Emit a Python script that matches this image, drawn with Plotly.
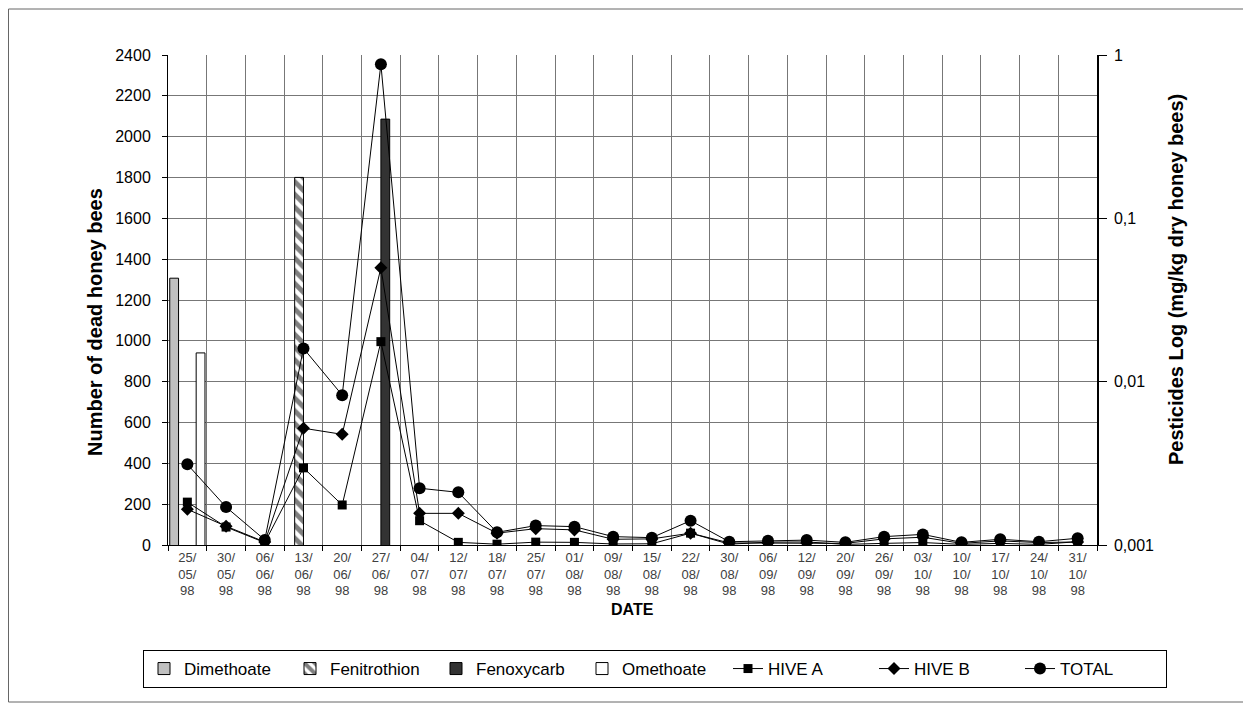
import plotly.graph_objects as go

dates = ["25/05/98", "30/05/98", "06/06/98", "13/06/98", "20/06/98", "27/06/98",
         "04/07/98", "12/07/98", "18/07/98", "25/07/98", "01/08/98", "09/08/98",
         "15/08/98", "22/08/98", "30/08/98", "06/09/98", "12/09/98", "20/09/98",
         "26/09/98", "03/10/98", "10/10/98", "17/10/98", "24/10/98", "31/10/98"]
tick_text = [d[0:3] + "<br>" + d[3:6] + "<br>" + d[6:] for d in dates]

hive_a = [210, 88, 12, 378, 196, 996, 119, 13, 4, 14, 13, 5, 6, 58, 4, 14, 15, 3, 8, 12, 3, 8, 3, 16]
hive_b = [175, 92, 15, 572, 542, 1358, 155, 155, 58, 80, 74, 28, 30, 58, 10, 10, 10, 8, 30, 38, 8, 20, 12, 15]
total = [395, 186, 25, 963, 734, 2355, 278, 258, 62, 95, 90, 41, 36, 119, 16, 21, 24, 13, 41, 52, 13, 28, 16, 33]

# pesticide residues (mg/kg dry honey bees), log scale
dimethoate = {"25/05/98": 0.043}
fenitrothion = {"13/06/98": 0.178}
fenoxycarb = {"27/06/98": 0.405}
omethoate = {"25/05/98": 0.015}


def series(d):
    return [d.get(x) for x in dates]


FONT = "Liberation Sans, Arial, sans-serif"
NARROW = "Liberation Sans Narrow, Arial Narrow, Liberation Sans, Arial, sans-serif"

fig = go.Figure()

bar_line = dict(color="black", width=1)
fig.add_trace(go.Bar(x=dates, y=series(dimethoate), name="Dimethoate",
                     marker=dict(color="#c0c0c0", line=bar_line), yaxis="y"))
fig.add_trace(go.Bar(x=dates, y=series(fenitrothion), name="Fenitrothion",
                     marker=dict(color="white", line=bar_line,
                                 pattern=dict(shape="\\", fgcolor="black", bgcolor="white",
                                              size=9, solidity=0.55)), yaxis="y"))
fig.add_trace(go.Bar(x=dates, y=series(fenoxycarb), name="Fenoxycarb",
                     marker=dict(color="#333333", line=bar_line), yaxis="y"))
fig.add_trace(go.Bar(x=dates, y=series(omethoate), name="Omethoate",
                     marker=dict(color="white", line=bar_line), yaxis="y"))

line_style = dict(color="black", width=1)
fig.add_trace(go.Scatter(x=dates, y=hive_a, name="HIVE A", mode="lines+markers",
                         line=line_style, marker=dict(symbol="square", size=9, color="black"),
                         yaxis="y2"))
fig.add_trace(go.Scatter(x=dates, y=hive_b, name="HIVE B", mode="lines+markers",
                         line=line_style, marker=dict(symbol="diamond", size=10, color="black"),
                         yaxis="y2"))
fig.add_trace(go.Scatter(x=dates, y=total, name="TOTAL", mode="lines+markers",
                         line=line_style, marker=dict(symbol="circle", size=12, color="black"),
                         yaxis="y2"))

# the page body adds an 8px offset; figure sized so screen plot area is 168..1097 x 55..545
W, H = 1243, 703
L, T = 160, 47
R = W - (1097 - 8)
B = H - (545 - 8)
PW, PH = 929, 490


def px_x(sx):
    return (sx - 168) / PW


def px_y(sy):
    return (545 - sy) / PH


fig.update_layout(
    width=W, height=H,
    margin=dict(l=L, r=R, t=T, b=B, autoexpand=False),
    paper_bgcolor="white", plot_bgcolor="white",
    font=dict(family=FONT, size=13, color="black"),
    barmode="group", bargap=0.09, bargroupgap=0.0,
    showlegend=True,
    legend=dict(orientation="h", x=px_x(143), xanchor="left", y=px_y(650), yanchor="top",
                bordercolor="black", borderwidth=1, bgcolor="white",
                font=dict(family=FONT, size=17, color="black"),
                entrywidth=101, entrywidthmode="pixels", traceorder="normal",
                itemwidth=30),
    xaxis=dict(type="category", categoryorder="array", categoryarray=dates,
               range=[-0.5, len(dates) - 0.5],
               tickmode="array", tickvals=dates, ticktext=tick_text,
               tickson="boundaries", ticks="outside", ticklen=5, tickcolor="black",
               showgrid=True, gridcolor="#777777", gridwidth=1,
               showline=True, linecolor="black", linewidth=1,
               tickfont=dict(family=NARROW, size=13, color="#404040"),
               tickangle=0, automargin=False),
    yaxis=dict(type="log", range=[-3, 0], side="right",
               tickmode="array", tickvals=[0.001, 0.01, 0.1, 1],
               ticktext=["0,001", "0,01", "0,1", "1"],
               ticks="outside", ticklen=8, tickcolor="black", ticklabelstandoff=4,
               showgrid=False, zeroline=False,
               showline=True, linecolor="black", linewidth=1.5,
               tickfont=dict(family=FONT, size=16, color="black"), automargin=False),
    yaxis2=dict(range=[0, 2400], dtick=200, side="left", overlaying="y",
                ticks="outside", ticklen=5, tickcolor="black", ticklabelstandoff=8,
                showgrid=True, gridcolor="#777777", gridwidth=1, zeroline=False,
                showline=True, linecolor="black", linewidth=1,
                tickfont=dict(family=FONT, size=16, color="black"), automargin=False),
    annotations=[
        dict(text="<b>DATE</b>", x=px_x(632), y=px_y(609), xref="paper", yref="paper",
             xanchor="center", yanchor="middle",
             showarrow=False, font=dict(family=NARROW, size=16, color="black")),
        dict(text="<b>Number of dead honey bees</b>", x=px_x(95), y=px_y(322),
             xref="paper", yref="paper", showarrow=False, textangle=-90,
             xanchor="center", yanchor="middle",
             font=dict(family=FONT, size=20, color="black")),
        dict(text="<b>Pesticides Log (mg/kg dry honey bees)</b>", x=px_x(1176), y=px_y(280),
             xref="paper", yref="paper", showarrow=False, textangle=-90,
             xanchor="center", yanchor="middle",
             font=dict(family=FONT, size=20, color="black")),
    ],
    shapes=[
        dict(type="rect", xref="paper", yref="paper",
             x0=px_x(8.5), x1=px_x(1245), y0=px_y(702), y1=px_y(9),
             line=dict(color="#666666", width=1), fillcolor="rgba(0,0,0,0)", layer="below"),
    ],
)

fig.write_html("out.html")
